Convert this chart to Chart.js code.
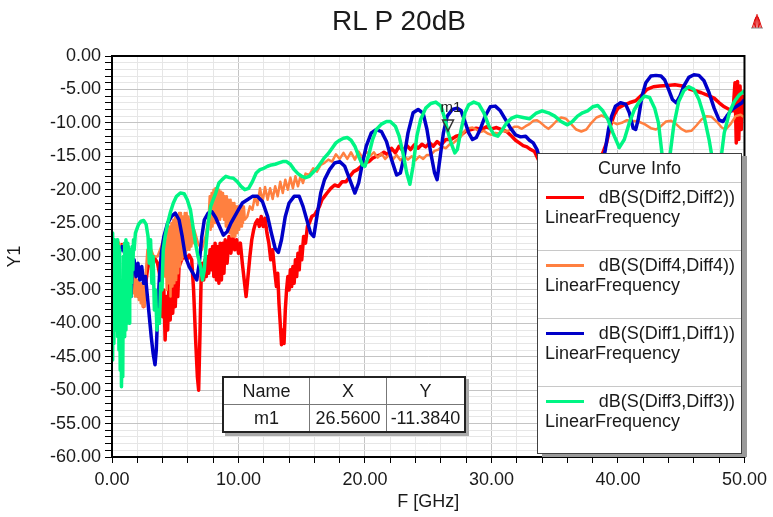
<!DOCTYPE html>
<html>
<head>
<meta charset="utf-8">
<script src="https://cdn.jsdelivr.net/npm/chart.js@4.4.1/dist/chart.umd.min.js"></script>
<style>
  body { margin: 0; background: #fff; }
  #wrap { position: relative; width: 773px; height: 517px; font-family: "Liberation Sans", Arial, sans-serif; color: #1a1a1a; }
  #title { position: absolute; top: 5px; left: 399px; transform: translateX(-50%); font-size: 28px; white-space: nowrap; }
  #curveInfo { position: absolute; left: 537px; top: 153px; width: 203px; height: 299px; background: #fff;
    border: 1px solid #404040; box-shadow: 5px 3px 0 #9a9a9a; font-size: 18px; }
  #curveInfo .hdr { height: 28px; line-height: 28px; text-align: center; border-bottom: 1px solid #c8c8c8; }
  #curveInfo .item { position: relative; height: 67px; border-bottom: 1px solid #c8c8c8; }
  #curveInfo .item:last-child { border-bottom: none; }
  #curveInfo .sw { position: absolute; left: 8px; top: 13px; width: 38px; height: 3px; }
  #curveInfo .l1 { position: absolute; right: 6px; top: 4px; line-height: 20px; white-space: nowrap; }
  #curveInfo .l2 { position: absolute; left: 7px; top: 24px; line-height: 20px; white-space: nowrap; }
  #mk { position: absolute; left: 222px; top: 376px; border-collapse: collapse; background: #fff;
    border: 2px solid #222; box-shadow: 3px 3px 0 #aaa; font-size: 18px; }
  #mk th, #mk td { border: 1px solid #777; font-weight: normal; text-align: center; height: 26px; padding: 0 3px; }
</style>
</head>
<body>
<div id="wrap">
  <canvas id="myChart" width="773" height="517"></canvas>
  <div id="title">RL P 20dB</div>
  <div id="curveInfo"></div>
  <table id="mk"></table>
</div>
<script>
// frequency [GHz], dB pairs
const redPts = [[0,-27.8],[0.2,-28.6],[0.4,-28],[0.6,-28.8],[0.8,-28.2],[1.0,-28.8],[1.2,-28.3],[1.4,-31],[1.5,-34],[1.6,-32.5],[1.7,-34.5],[1.8,-33],[1.9,-35.5],[2.0,-34],[2.1,-36],[2.2,-34.5],[2.3,-36.5],[2.4,-35],[2.5,-37.5],[2.6,-35],[2.8,-32],[3.0,-30.5],[3.3,-30],[3.6,-31],[3.85,-33.5],[4.0,-39],[4.1,-35],[4.2,-42.5],[4.3,-36],[4.4,-41],[4.5,-34],[4.6,-39.5],[4.7,-33.5],[4.8,-38.5],[4.9,-33.5],[5.0,-37.5],[5.1,-33],[5.2,-36],[5.3,-31.5],[5.5,-30.5],[5.7,-29.8],[5.9,-30.5],[6.1,-29.8],[6.3,-30.5],[6.45,-35],[6.6,-42],[6.75,-48],[6.85,-50],[6.95,-42],[7.05,-33],[7.15,-31],[7.25,-33.5],[7.35,-30.5],[7.45,-33],[7.55,-30],[7.65,-32.5],[7.75,-29],[7.85,-32],[7.95,-28.5],[8.05,-33],[8.15,-28],[8.25,-33.5],[8.35,-28.5],[8.45,-34],[8.55,-28],[8.65,-33.5],[8.75,-28],[8.85,-32.5],[8.95,-27.5],[9.1,-31],[9.25,-27],[9.4,-29.5],[9.55,-27],[9.7,-29],[9.85,-27.5],[10.0,-29.5],[10.15,-28],[10.3,-31],[10.45,-33.5],[10.6,-36],[10.75,-33],[10.9,-30],[11.05,-27.5],[11.2,-26],[11.35,-25],[11.5,-24.5],[11.65,-25.5],[11.8,-24],[11.95,-25.5],[12.1,-24.3],[12.25,-26.5],[12.4,-28],[12.55,-30.5],[12.7,-29],[12.85,-32],[13.0,-34.5],[13.1,-32.5],[13.2,-37],[13.3,-40],[13.4,-43.2],[13.5,-41],[13.6,-43],[13.7,-38],[13.8,-35],[13.9,-33],[14.0,-35],[14.1,-32],[14.2,-34.5],[14.3,-31.5],[14.4,-34],[14.5,-30.5],[14.6,-33],[14.7,-29.5],[14.8,-32],[14.9,-28.5],[15.0,-30.5],[15.15,-27],[15.3,-28],[15.45,-25.5],[15.6,-25],[15.8,-24],[16.0,-23.8],[16.2,-23.2],[16.4,-22.5],[16.6,-21.5],[16.8,-21],[17.0,-20.5],[17.3,-19.8],[17.6,-19.3],[17.9,-19.5],[18.2,-18.8],[18.5,-18.8],[18.8,-18],[19.1,-17.3],[19.4,-17],[19.7,-16.5],[20.0,-16],[20.3,-15.8],[20.6,-15.3],[20.9,-15],[21.2,-14.8],[21.5,-14.4],[21.8,-14.8],[22.1,-13.8],[22.4,-14.5],[22.7,-13.5],[23.0,-14.2],[23.3,-13.4],[23.6,-14],[23.9,-13.3],[24.2,-13.8],[24.5,-13.2],[24.8,-13.6],[25.1,-13],[25.4,-13.5],[25.7,-12.8],[26.0,-13.3],[26.4,-12.5],[26.8,-12.5],[27.2,-12],[27.6,-11.8],[28.0,-11.2],[28.4,-11],[28.8,-10.8],[29.2,-11],[29.6,-10.6],[30.0,-10.9],[30.4,-10.7],[30.8,-11],[31.2,-11.3],[31.6,-12],[31.9,-12.6],[32.2,-13],[32.5,-13.4],[32.8,-13.6],[33.1,-14],[33.4,-14.3],[33.7,-15.5],[34.2,-17],[35.0,-18],[36.0,-19],[37.0,-18.5],[37.8,-17.5],[38.4,-15.8],[38.8,-14.5],[39.1,-13],[39.4,-10.5],[39.7,-8.8],[40.0,-7.8],[40.4,-7.4],[40.9,-7],[41.4,-6.7],[41.9,-5.8],[42.3,-5],[42.8,-4.6],[43.3,-4.5],[43.9,-4.4],[44.5,-4.3],[45.1,-4.5],[45.6,-4.9],[46.1,-5.2],[46.6,-5.5],[47.1,-5.9],[47.6,-6.3],[48.0,-7],[48.4,-7.6],[48.8,-8],[49.1,-8.2],[49.25,-4],[49.35,-13],[49.45,-3.8],[49.55,-12.5],[49.65,-4.5],[49.75,-11],[49.85,-6],[50,-9]];

const orangePts = [[0,-27.5],[0.25,-28.5],[0.5,-27.8],[0.75,-28.6],[1.0,-28],[1.25,-28.5],[1.45,-32.5],[1.525,-35],[1.6,-33],[1.675,-35.5],[1.75,-33],[1.825,-36],[1.9,-33.5],[1.975,-36],[2.05,-33.5],[2.125,-36.5],[2.2,-34],[2.275,-37],[2.35,-34],[2.425,-37.5],[2.5,-34.5],[2.575,-37.5],[2.65,-33],[2.8,-29],[3.0,-28.5],[3.3,-30],[3.6,-30],[3.9,-28.5],[4.1,-27],[4.175,-33],[4.25,-27.5],[4.325,-35],[4.4,-26],[4.475,-34],[4.55,-25.5],[4.625,-36],[4.7,-25],[4.775,-34.5],[4.85,-24.5],[4.925,-34],[5.0,-24],[5.075,-33.5],[5.15,-24],[5.225,-32.5],[5.3,-23.5],[5.375,-31.5],[5.45,-23.5],[5.525,-30.5],[5.6,-24],[5.675,-30],[5.75,-23.5],[5.825,-29.5],[5.9,-23.5],[5.975,-29],[6.05,-24],[6.125,-29],[6.2,-24.5],[6.275,-28.5],[6.35,-25],[6.425,-28],[6.5,-26],[6.8,-28],[7.1,-29],[7.4,-27],[7.65,-24],[7.725,-21],[7.8,-26],[7.875,-20.5],[7.95,-25.5],[8.025,-20],[8.1,-25],[8.175,-19.8],[8.25,-25],[8.325,-20],[8.4,-24.5],[8.475,-20],[8.55,-24.5],[8.625,-20.3],[8.7,-24],[8.775,-20.5],[8.85,-24.5],[8.925,-21],[9.0,-25.5],[9.075,-21],[9.15,-26],[9.225,-21.5],[9.3,-26.5],[9.375,-21.5],[9.45,-27],[9.525,-22],[9.6,-27],[9.675,-22],[9.75,-27],[9.825,-22.5],[9.9,-26.5],[9.975,-22.5],[10.05,-26],[10.125,-22.5],[10.2,-25.5],[10.275,-22.5],[10.35,-25],[10.425,-22.5],[10.5,-24.5],[10.7,-24],[10.9,-22.5],[11.1,-23],[11.3,-21],[11.5,-22.3],[11.7,-19.8],[11.9,-21.8],[12.1,-19.6],[12.3,-21.5],[12.5,-19.8],[12.7,-21.4],[12.9,-19.5],[13.1,-21],[13.3,-18.8],[13.5,-20.5],[13.7,-18.5],[13.9,-20],[14.1,-18.2],[14.3,-19.8],[14.5,-18],[14.7,-19.5],[14.9,-18],[15.1,-19],[15.3,-17.6],[15.6,-17.8],[15.9,-16.8],[16.2,-17.3],[16.5,-16.3],[16.8,-16],[17.1,-15.5],[17.4,-15.8],[17.7,-14.7],[18.0,-15.4],[18.3,-14.5],[18.6,-15.4],[18.9,-14.4],[19.2,-15.5],[19.5,-14.3],[19.8,-15.2],[20.1,-14.3],[20.4,-15],[20.7,-14.4],[21.0,-15.2],[21.3,-14.6],[21.6,-15.4],[21.9,-14.8],[22.2,-15.5],[22.5,-14.8],[22.8,-15.6],[23.1,-15],[23.4,-15.5],[23.7,-15],[24.0,-15.6],[24.3,-15],[24.6,-15.4],[24.9,-14.8],[25.2,-14.8],[25.5,-14.2],[25.8,-14],[26.1,-13.6],[26.4,-13.8],[26.7,-13.2],[27.0,-13],[27.3,-12.5],[27.6,-12],[27.9,-11.2],[28.2,-10.8],[28.5,-10.7],[28.8,-11],[29.1,-11.4],[29.4,-11.2],[29.7,-11.6],[30.0,-11.8],[30.3,-11.5],[30.6,-11.6],[30.9,-11.2],[31.2,-11.3],[31.5,-11],[31.8,-10.6],[32.1,-10.6],[32.4,-10.9],[32.7,-10.5],[33.0,-10.2],[33.3,-9.7],[33.6,-9.6],[33.9,-10],[34.2,-10.5],[34.5,-10.9],[34.8,-10.4],[35.1,-9.8],[35.5,-9.2],[35.9,-9.4],[36.3,-10.2],[36.7,-11],[37.1,-11.3],[37.5,-11],[37.9,-10],[38.3,-9.2],[38.7,-8.9],[39.1,-9.2],[39.5,-9.8],[39.9,-10.2],[40.3,-10],[40.7,-9.6],[41.1,-9.7],[41.6,-9.8],[42.1,-10.2],[42.6,-10.8],[43.0,-11],[43.4,-10.5],[43.8,-9.8],[44.2,-9.7],[44.6,-10.2],[45.0,-10.9],[45.4,-11.3],[45.8,-11.2],[46.2,-10.4],[46.6,-9.5],[47.0,-9],[47.4,-9.1],[47.8,-9.8],[48.2,-10.7],[48.5,-11],[48.9,-10.2],[49.3,-9],[49.7,-8.8],[50,-9.2]];

const bluePts = [[0,-28],[0.2,-29.2],[0.4,-28.3],[0.6,-29.3],[0.8,-28.5],[1.0,-29.5],[1.2,-29],[1.35,-33],[1.5,-36],[1.6,-32],[1.75,-30.5],[1.9,-33],[2.05,-31],[2.2,-33.5],[2.35,-31.5],[2.5,-34],[2.65,-33],[2.8,-36],[2.95,-39],[3.1,-42],[3.25,-44.5],[3.4,-46.2],[3.5,-44],[3.6,-39],[3.75,-33],[3.9,-29.5],[4.1,-27],[4.4,-25],[4.7,-24],[5.0,-23.5],[5.3,-24.5],[5.55,-27],[5.8,-30],[6.1,-31.5],[6.4,-32.5],[6.7,-33.5],[6.9,-31],[7.1,-27],[7.3,-24.5],[7.6,-23.5],[7.9,-23.3],[8.2,-24.2],[8.5,-25.5],[8.8,-26.8],[9.1,-26.3],[9.4,-25],[9.7,-24],[10.0,-23],[10.3,-22],[10.7,-21.5],[11.1,-21],[11.5,-21],[11.9,-21.8],[12.3,-24],[12.6,-26.5],[12.9,-28.8],[13.15,-29.4],[13.4,-27.5],[13.7,-24],[14.0,-22],[14.4,-21],[14.8,-21],[15.1,-22.5],[15.4,-24.5],[15.7,-26.5],[15.95,-27],[16.2,-24],[16.5,-20.5],[16.8,-18.5],[17.2,-17],[17.6,-16],[18.0,-15.8],[18.4,-16.5],[18.8,-18.5],[19.2,-20.5],[19.5,-19],[19.8,-16],[20.1,-13.5],[20.5,-11.5],[20.9,-11],[21.3,-11.3],[21.7,-12.8],[22.1,-15.5],[22.5,-17.8],[22.8,-17.5],[23.1,-15],[23.4,-11.5],[23.8,-8.5],[24.2,-8],[24.6,-8.6],[24.9,-11],[25.2,-14.5],[25.5,-17.5],[25.7,-18.5],[25.95,-15],[26.2,-11.5],[26.5,-9],[26.9,-8],[27.3,-7.8],[27.6,-8.2],[27.9,-9.8],[28.2,-11.5],[28.5,-12.5],[28.8,-12.2],[29.1,-11],[29.5,-9],[29.9,-7.6],[30.3,-7.5],[30.7,-8.2],[31.1,-9.5],[31.5,-10.8],[31.9,-11.8],[32.3,-12.1],[32.7,-12],[33.0,-12.6],[33.3,-13],[33.6,-14],[33.9,-16],[34.3,-19],[35.0,-22],[36.0,-24],[37.0,-22],[38.0,-20],[38.7,-17],[39.0,-14],[39.25,-11],[39.5,-9],[39.8,-7.5],[40.2,-7],[40.6,-7.2],[40.9,-8.5],[41.2,-10.8],[41.4,-11],[41.6,-9.5],[41.9,-6],[42.2,-4],[42.6,-3],[43.0,-2.9],[43.4,-3],[43.7,-3.6],[44.0,-5],[44.3,-6.5],[44.6,-7],[44.9,-6],[45.2,-4.5],[45.6,-3.2],[46.0,-2.8],[46.4,-2.9],[46.8,-3.7],[47.2,-5.5],[47.6,-7.8],[48.0,-9.6],[48.3,-9.8],[48.6,-9],[49.0,-8],[49.4,-7.5],[49.8,-7],[50,-6.5]];

const greenPts = [[0,-26.5],[0.05,-45.5],[0.1,-28],[0.15,-43],[0.2,-27.5],[0.25,-41],[0.3,-28],[0.35,-40],[0.4,-27.5],[0.45,-42],[0.5,-28.5],[0.55,-44],[0.6,-29],[0.65,-47],[0.7,-35],[0.75,-49.5],[0.8,-40],[0.85,-48],[0.9,-30],[0.95,-42],[1.0,-28],[1.05,-41],[1.1,-27.5],[1.15,-40],[1.2,-28],[1.25,-39.5],[1.3,-28.5],[1.35,-40],[1.4,-30],[1.45,-36],[1.5,-29],[1.55,-34],[1.6,-28.5],[1.65,-32],[1.7,-27.5],[1.75,-29],[1.85,-26.5],[2.1,-25.2],[2.3,-24.7],[2.5,-24.6],[2.7,-25.2],[2.85,-27],[2.95,-31],[3.05,-27.5],[3.15,-34],[3.25,-30],[3.35,-38],[3.45,-35],[3.55,-41],[3.65,-38],[3.75,-40],[3.85,-34],[3.95,-35],[4.05,-29],[4.2,-27],[4.4,-25],[4.6,-23.5],[4.85,-22],[5.1,-21],[5.4,-20.5],[5.7,-20.6],[5.95,-21.5],[6.2,-23],[6.4,-25.5],[6.6,-28],[6.8,-30],[7.0,-31.5],[7.15,-33.5],[7.3,-32],[7.45,-28],[7.6,-25],[7.8,-22.5],[8.0,-21.5],[8.2,-20.5],[8.45,-19],[8.7,-18.5],[9.0,-18],[9.3,-18.2],[9.6,-18.3],[9.9,-18.8],[10.2,-19.5],[10.5,-20],[10.8,-19.8],[11.1,-18.8],[11.4,-17.5],[11.7,-17],[12.0,-16.8],[12.3,-16.5],[12.6,-16.3],[12.9,-16.2],[13.2,-16],[13.5,-15.8],[13.8,-15.8],[14.1,-16.2],[14.4,-17],[14.7,-17.6],[15.0,-18],[15.3,-18.2],[15.6,-18],[15.9,-17.4],[16.2,-16.8],[16.5,-16],[16.8,-15.2],[17.1,-14.6],[17.4,-13.8],[17.7,-13],[18.0,-12.6],[18.3,-12.3],[18.6,-12.2],[18.9,-12.6],[19.2,-13.5],[19.5,-15],[19.8,-16.3],[20.0,-16.5],[20.3,-14.8],[20.6,-12.5],[20.9,-11],[21.3,-10.2],[21.7,-9.8],[22.0,-9.8],[22.4,-10.5],[22.7,-12],[23.0,-14.5],[23.3,-17.5],[23.55,-19.2],[23.8,-16.5],[24.1,-12],[24.4,-9.5],[24.8,-7.8],[25.2,-7.1],[25.6,-6.9],[26.0,-7.5],[26.3,-9.3],[26.56,-11.384],[26.8,-13],[27.1,-14.5],[27.3,-14],[27.6,-11],[27.9,-8.5],[28.2,-7.3],[28.6,-6.9],[29.0,-7.2],[29.4,-8.5],[29.8,-10.5],[30.2,-11.8],[30.5,-12],[30.8,-11.2],[31.2,-10],[31.6,-9.3],[32.0,-9],[32.5,-9.2],[33.0,-9.4],[33.5,-8.6],[34.0,-8.2],[34.5,-8.5],[35.0,-9],[35.5,-9.8],[36.0,-10.3],[36.4,-9.8],[36.8,-9],[37.2,-8.5],[37.6,-8.2],[38.0,-7.6],[38.4,-7.4],[38.8,-8.2],[39.2,-9.5],[39.6,-11.5],[40.1,-13.7],[40.5,-12.5],[40.9,-10],[41.3,-8],[41.7,-6.8],[42.1,-6],[42.5,-6.2],[42.9,-7.8],[43.2,-10],[43.5,-15],[43.8,-20],[44.1,-15],[44.4,-10.5],[44.8,-6.8],[45.2,-5.2],[45.6,-4.6],[46.0,-5],[46.4,-6.5],[46.8,-9],[47.2,-12.5],[47.6,-17],[47.85,-20],[48.1,-16],[48.4,-11.5],[48.8,-8.5],[49.2,-6.8],[49.6,-5.8],[50,-5.2]];

const curveLabels = ['dB(S(Diff2,Diff2))', 'dB(S(Diff4,Diff4))', 'dB(S(Diff1,Diff1))', 'dB(S(Diff3,Diff3))'];
const curveColors = ['#ff0000', '#ff8040', '#0000c8', '#00f584'];
const curveWidths = [3.5, 2.5, 3.5, 3.5];
const sweepLabel = 'LinearFrequency';

const markerNames = ['m1'];
const markerX = [26.56];
const markerY = [-11.384];

const yTicksMajor = 5;   // labelled every 5 dB
const xTicksMajor = 10;  // labelled every 10 GHz

const toXY = pts => pts.map(p => ({ x: p[0], y: p[1] }));
const series = [redPts, orangePts, bluePts, greenPts];

const fontFam = '"Liberation Sans", Arial, sans-serif';

const frame = {
  id: 'frame',
  afterDatasetsDraw(chart) {
    const { ctx, chartArea: a, scales } = chart;
    ctx.save();
    ctx.strokeStyle = '#000';
    ctx.lineWidth = 2;
    ctx.strokeRect(a.left, a.top, a.right - a.left, a.bottom - a.top);
    // marker
    markerNames.forEach((name, i) => {
      const px = scales.x.getPixelForValue(markerX[i]);
      const py = scales.y.getPixelForValue(markerY[i]);
      ctx.beginPath();
      ctx.moveTo(px - 5.5, py - 12);
      ctx.lineTo(px + 5.5, py - 12);
      ctx.lineTo(px, py - 1);
      ctx.closePath();
      ctx.lineWidth = 1.5;
      ctx.strokeStyle = '#333';
      ctx.stroke();
      ctx.fillStyle = '#222';
      ctx.font = '15px ' + fontFam;
      ctx.textAlign = 'center';
      ctx.textBaseline = 'middle';
      ctx.fillText(name, px + 3, py - 24);
    });
    ctx.restore();
  },
  afterDraw(chart) {
    // small logo top right
    const { ctx } = chart;
    ctx.save();
    ctx.strokeStyle = '#d00';
    ctx.lineWidth = 1;
    const cx = 757, top = 14, h = 14;
    for (let k = -3; k <= 3; k++) {
      ctx.beginPath();
      ctx.moveTo(cx + k * 0.6, top + Math.abs(k) * 1.5);
      ctx.lineTo(cx + k * 1.6, top + h);
      ctx.stroke();
    }
    ctx.strokeStyle = '#888';
    ctx.beginPath();
    ctx.moveTo(cx - 6, top + h);
    ctx.lineTo(cx + 6, top + h);
    ctx.stroke();
    ctx.restore();
  }
};

const ctx = document.getElementById('myChart').getContext('2d');
const chart = new Chart(ctx, {
  type: 'line',
  data: {
    datasets: series.map((pts, i) => ({
      label: curveLabels[i],
      data: toXY(pts),
      borderColor: curveColors[i],
      backgroundColor: curveColors[i],
      borderWidth: curveWidths[i],
      pointRadius: 0,
      tension: 0,
      borderJoinStyle: 'round',
      order: 3 - i
    }))
  },
  options: {
    responsive: false,
    animation: false,
    devicePixelRatio: 1,
    layout: { padding: { top: 56, right: 24, bottom: 0, left: 0 } },
    plugins: { legend: { display: false }, tooltip: { enabled: false } },
    scales: {
      x: {
        type: 'linear', min: 0, max: 50,
        afterFit: s => { s.height = 60; },
        ticks: {
          stepSize: 2, autoSkip: false, maxRotation: 0, minRotation: 0, padding: 6,
          color: '#1a1a1a', font: { family: fontFam, size: 18 },
          callback: v => (v % xTicksMajor === 0 ? v.toFixed(2) : '')
        },
        grid: {
          color: c => (c.tick && c.tick.value % xTicksMajor === 0 ? '#c4c4c4' : '#e6e6e6'),
          tickColor: '#000', tickLength: 6
        },
        border: { color: '#000', width: 2 },
        title: { display: true, text: 'F [GHz]', color: '#1a1a1a', font: { family: fontFam, size: 18 }, padding: { top: 0, bottom: 4 } }
      },
      y: {
        min: -60, max: 0,
        afterFit: s => { s.width = 112; },
        ticks: {
          stepSize: 1, autoSkip: false, padding: 4,
          color: '#1a1a1a', font: { family: fontFam, size: 18 },
          callback: v => (v % yTicksMajor === 0 ? v.toFixed(2) : '')
        },
        grid: {
          color: c => (c.tick && c.tick.value % yTicksMajor === 0 ? '#c4c4c4' : '#e6e6e6'),
          tickColor: '#000', tickLength: 7
        },
        border: { color: '#000', width: 2 },
        title: { display: true, text: 'Y1', color: '#1a1a1a', font: { family: fontFam, size: 18 }, padding: { top: 4, bottom: 0 } }
      }
    }
  },
  plugins: [frame]
});

// curve info box
const info = document.getElementById('curveInfo');
let html = '<div class="hdr">Curve Info</div>';
curveLabels.forEach((lab, i) => {
  html += '<div class="item"><div class="sw" style="background:' + curveColors[i] + '"></div>' +
    '<div class="l1">' + lab + '</div><div class="l2">' + sweepLabel + '</div></div>';
});
info.innerHTML = html;

// marker table
const mk = document.getElementById('mk');
let rows = '<tr><th style="width:79px">Name</th><th style="width:70px">X</th><th style="width:71px">Y</th></tr>';
markerNames.forEach((n, i) => {
  rows += '<tr><td>' + n + '</td><td>' + markerX[i].toFixed(4) + '</td><td>' + markerY[i].toFixed(4) + '</td></tr>';
});
mk.innerHTML = rows;
</script>
</body>
</html>
